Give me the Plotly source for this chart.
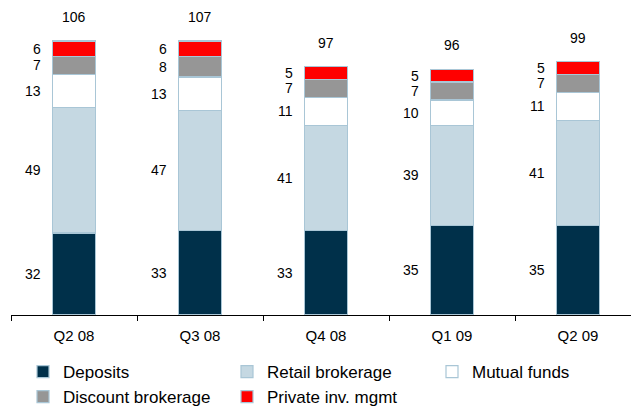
import plotly.graph_objects as go

categories = ["Q2 08", "Q3 08", "Q4 08", "Q1 09", "Q2 09"]
deposits = [32, 33, 33, 35, 35]
retail = [49, 47, 41, 39, 41]
mutual = [13, 13, 11, 10, 11]
discount = [7, 8, 7, 7, 7]
private = [6, 6, 5, 5, 5]
totals = [106, 107, 97, 96, 99]

series = [
    ("Deposits", deposits, "#00304A", "legend"),
    ("Retail brokerage", retail, "#C5D8E2", "legend2"),
    ("Mutual funds", mutual, "#FFFFFF", "legend3"),
    ("Discount brokerage", discount, "#969696", "legend"),
    ("Private inv. mgmt", private, "#FF0000", "legend2"),
]

FONT = "Arial, Liberation Sans, sans-serif"
fig = go.Figure()
for name, vals, color, lg in series:
    fig.add_trace(go.Bar(
        x=categories, y=vals, name=name, legend=lg, legendgroup=name,
        marker=dict(color=color, line=dict(color="#A9C6D6", width=1.2)),
        width=0.34,
    ))

annotations = []
for i, cat in enumerate(categories):
    base = 0
    for name, vals, color, lg in series:
        v = vals[i]
        annotations.append(dict(
            x=cat, y=base + v / 2, xref="x", yref="y", text=str(v),
            showarrow=False, xanchor="right", yanchor="middle", xshift=-31,
            font=dict(family=FONT, size=14, color="#000000"),
        ))
        base += v
    annotations.append(dict(
        x=cat, y=base, xref="x", yref="y", text=str(totals[i]),
        showarrow=False, xanchor="center", yanchor="middle", yshift=24,
        font=dict(family=FONT, size=14, color="#000000"),
    ))

W, H = 631, 406
ml, mr, mt, mb = 11, 0, 10, 91
pw = W - ml - mr
ph = H - mt - mb
cat_px = 126.0
ymax = ph / 2.56

legend_common = dict(
    orientation="v", yanchor="top", xanchor="left", bgcolor="rgba(0,0,0,0)",
    font=dict(family=FONT, size=17, color="#000000"), itemwidth=30,
    traceorder="normal", xref="container", yref="container", tracegroupgap=2,
)
ly = 1 - 354 / H
fig.update_layout(
    width=W, height=H,
    margin=dict(l=ml, r=mr, t=mt, b=mb, autoexpand=False),
    plot_bgcolor="white", paper_bgcolor="white",
    barmode="stack",
    annotations=annotations,
    font=dict(family=FONT, size=15, color="#000000"),
    xaxis=dict(
        type="category", range=[-0.5, -0.5 + pw / cat_px],
        showline=True, linecolor="#000000", linewidth=1,
        ticks="outside", ticklen=5, tickcolor="#000000", tickson="boundaries",
        showgrid=False, zeroline=False,
        tickfont=dict(family=FONT, size=15, color="#000000"),
        ticklabelstandoff=7,
    ),
    yaxis=dict(range=[0, ymax], visible=False, showgrid=False, zeroline=False),
    legend=dict(x=23 / W, y=ly, **legend_common),
    legend2=dict(x=227 / W, y=ly, **legend_common),
    legend3=dict(x=432 / W, y=ly, **legend_common),
)

fig.write_html(
    "out.html",
    config={"displayModeBar": False},
    post_script="document.body.style.margin='0px';",
)
